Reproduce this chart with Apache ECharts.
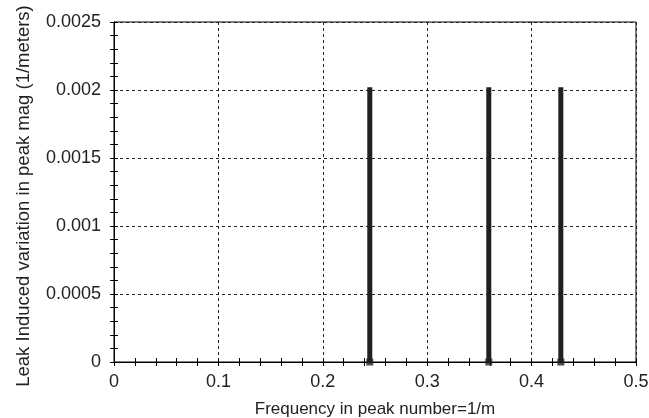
<!DOCTYPE html>
<html><head><meta charset="utf-8">
<script src="https://cdn.jsdelivr.net/npm/echarts@6/dist/echarts.min.js"></script>
<style>html,body{margin:0;padding:0;background:#fff}#c{width:649px;height:418px}</style>
</head><body><div id="c"></div>
<script>
const freqs = [0.245, 0.359, 0.428];
const mags = [0.00202, 0.00202, 0.00202];
const xTicks = [0, 0.1, 0.2, 0.3, 0.4, 0.5];
const yTicks = [0, 0.0005, 0.001, 0.0015, 0.002, 0.0025];
const xName = 'Frequency in peak number=1/m';
const yName = 'Leak Induced variation in peak mag (1/meters)';

const font = 'Liberation Sans, Arial, sans-serif';
const txt = '#222';
const chart = echarts.init(document.getElementById('c'));
const tickStyle = {inside: true, length: 4, lineStyle: {color: '#000', width: 1}};
const minorStyle = {show: true, splitNumber: 5, length: 4, lineStyle: {color: '#000', width: 1}};
const fmtX = v => String(+v.toFixed(1));
const fmtY = v => String(+v.toFixed(4));
chart.setOption({
  animation: false,
  grid: {left: 114, right: 13, top: 22, bottom: 56, show: true, borderColor: '#000', borderWidth: 1,
         outerBoundsMode: 'none', containLabel: false},
  xAxis: [{
    type: 'value', min: xTicks[0], max: xTicks[xTicks.length - 1], interval: 0.1, position: 'bottom',
    name: xName, nameLocation: 'middle', nameGap: 39,
    nameTextStyle: {fontFamily: font, fontSize: 17, color: txt},
    axisLine: {show: true, lineStyle: {color: '#000'}},
    axisTick: tickStyle, minorTick: minorStyle,
    axisLabel: {fontFamily: font, fontSize: 18, color: txt, margin: 11, formatter: fmtX},
    splitLine: {show: true, lineStyle: {color: '#222', type: [3, 3], width: 1}}
  }, {
    type: 'value', min: xTicks[0], max: xTicks[xTicks.length - 1], interval: 0.1, position: 'top',
    axisLine: {show: true, lineStyle: {color: '#000'}},
    axisTick: tickStyle, minorTick: minorStyle,
    axisLabel: {show: false}, splitLine: {show: false}
  }],
  yAxis: [{
    type: 'value', min: yTicks[0], max: yTicks[yTicks.length - 1], interval: 0.0005, position: 'left',
    name: yName, nameLocation: 'middle', nameGap: 81, nameRotate: 90,
    nameTextStyle: {fontFamily: font, fontSize: 18.5, color: txt, padding: [0, 8, 0, 0]},
    axisLine: {show: true, lineStyle: {color: '#000'}},
    axisTick: tickStyle, minorTick: minorStyle,
    axisLabel: {fontFamily: font, fontSize: 18, color: txt, margin: 13, formatter: fmtY},
    splitLine: {show: true, lineStyle: {color: '#222', type: [3, 3], width: 1}}
  }, {
    type: 'value', min: yTicks[0], max: yTicks[yTicks.length - 1], interval: 0.0005, position: 'right',
    axisLine: {show: true, lineStyle: {color: '#000'}},
    axisTick: tickStyle, minorTick: minorStyle,
    axisLabel: {show: false}, splitLine: {show: false}
  }],
  series: [{
    type: 'bar', xAxisIndex: 0, yAxisIndex: 0, barWidth: 5,
    itemStyle: {color: '#231f20'},
    data: freqs.map((f, i) => [f, mags[i]])
  }, {
    type: 'scatter', xAxisIndex: 0, yAxisIndex: 0, symbol: 'rect', symbolSize: 7,
    itemStyle: {color: '#231f20'}, z: 5,
    data: freqs.map(f => [f, 0])
  }]
});
</script></body></html>
